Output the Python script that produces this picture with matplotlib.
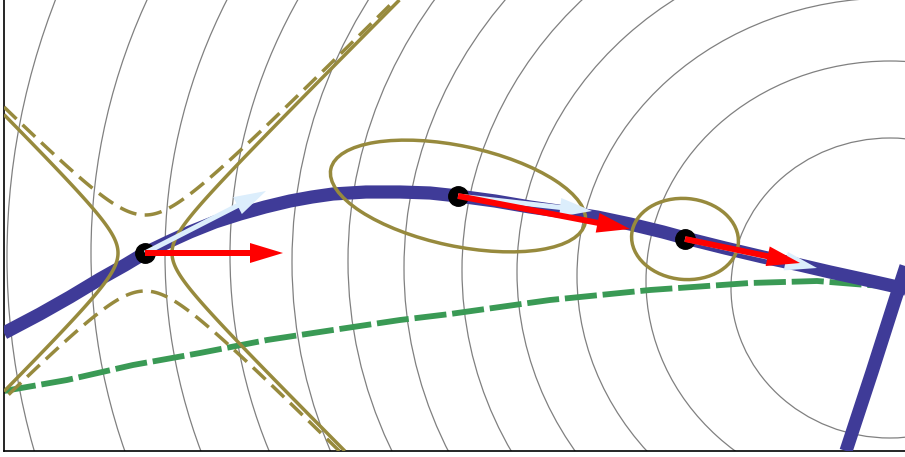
import numpy as np
import matplotlib.pyplot as plt
from matplotlib.patches import Ellipse, FancyArrow

# Level curves of the objective: common centre column, per-level centre row,
# half-widths and half-heights (plot units)
level_cx = 890
level_cy = [257, 253, 255, 255, 262, 261, 268, 270, 272, 276, 281, 288]
level_a = [883, 799, 725, 660, 598, 542, 486, 428, 373, 313, 244, 159]
level_b = [787, 688, 631, 578, 536, 482, 439, 389, 334, 278, 220, 150]

# Constraint curve (main branch) and the branch crossing it on the right
curve_x = [4, 40, 70, 100, 125, 145, 168, 190, 215, 240, 265, 290, 312, 333,
           366, 400, 430, 458, 495, 530, 565, 597, 630, 663, 685, 725, 763,
           800, 830, 862, 893, 910]
curve_y = [333, 314, 297, 279, 265, 253, 242, 232, 222, 214, 207, 201, 197, 194,
           192, 192, 193, 196, 201, 207, 212, 217, 224, 232, 238, 248, 257,
           265, 272, 279, 286, 290]
branch_x = [846, 872, 895, 910]
branch_y = [451, 372, 300, 254]

# Green dashed curve
green_x = [4, 67, 133, 200, 267, 333, 400, 450, 550, 650, 750, 817, 867, 890]
green_y = [391, 380, 365, 353, 340, 330, 320, 314, 300, 290, 283, 281, 285, 286]

# Iterates on the curve and the two step vectors at each of them
iter_x = [145, 458, 685]
iter_y = [253, 196, 239]
grad_dx = [138, 172, 115]
grad_dy = [0, 33, 24]
proj_dx = [121, 134, 132]
proj_dy = [-62, 15, 29]

# Local quadratic models: saddle at the first iterate (two level values),
# ellipses at the other two (full width, full height, tilt in degrees)
saddle_solid = 27 ** 2
saddle_dashed = -(38 ** 2)
model_w = [260, 107]
model_h = [100, 81]
model_angle = [12, 5]

gray = '#808080'
navy = '#3f3b98'
olive = '#978a3d'
green = '#3a9a55'
pale = '#dceefc'

fig = plt.figure(figsize=(9.05, 4.57), dpi=100)
ax = fig.add_axes([4 / 905, 6 / 457, 901 / 905, 451 / 457])
ax.set_xlim(4, 905)
ax.set_ylim(451, 0)
ax.set_xticks([])
ax.set_yticks([])
for side in ['top', 'right']:
    ax.spines[side].set_visible(False)
for side in ['left', 'bottom']:
    ax.spines[side].set_linewidth(1.2)

# objective contours
for cy, a, b in zip(level_cy, level_a, level_b):
    ax.add_patch(Ellipse((level_cx, cy), 2 * a, 2 * b, fill=False,
                         edgecolor=gray, linewidth=0.9, zorder=1))

ax.plot(green_x, green_y, color=green, linewidth=4.2,
        dashes=(5.5, 1.0), zorder=2)

ax.plot(curve_x, curve_y, color=navy, linewidth=9.5,
        solid_capstyle='butt', solid_joinstyle='round', zorder=3)
ax.plot(branch_x, branch_y, color=navy, linewidth=9.5,
        solid_capstyle='butt', solid_joinstyle='round', zorder=3)

# indefinite model at the first iterate
gx, gy = np.meshgrid(np.linspace(4, 905, 700), np.linspace(0, 451, 400))
q = (gx - iter_x[0]) ** 2 - (gy - iter_y[0]) ** 2
ax.contour(gx, gy, q, levels=[saddle_solid], colors=olive,
           linewidths=2.5, zorder=4)
cs = ax.contour(gx, gy, q, levels=[saddle_dashed], colors=olive,
                linewidths=2.5, linestyles=[(0, (5.0, 2.4))], zorder=4)

# positive definite models at the later iterates
for x0, y0, w, h, ang in zip(iter_x[1:], iter_y[1:], model_w, model_h, model_angle):
    ax.add_patch(Ellipse((x0, y0), w, h, angle=ang, fill=False,
                         edgecolor=olive, linewidth=2.5, zorder=4))

ax.plot(iter_x, iter_y, 'o', color='black', markersize=14, zorder=5)

for x0, y0, dx, dy in zip(iter_x, iter_y, proj_dx, proj_dy):
    ax.add_patch(FancyArrow(x0, y0, dx, dy, width=5, head_width=19,
                            head_length=32, length_includes_head=True,
                            color=pale, linewidth=0, zorder=6))
for x0, y0, dx, dy in zip(iter_x, iter_y, grad_dx, grad_dy):
    ax.add_patch(FancyArrow(x0, y0, dx, dy, width=6, head_width=20,
                            head_length=33, length_includes_head=True,
                            color='red', linewidth=0, zorder=7))

fig.savefig('out.png', dpi=100)
